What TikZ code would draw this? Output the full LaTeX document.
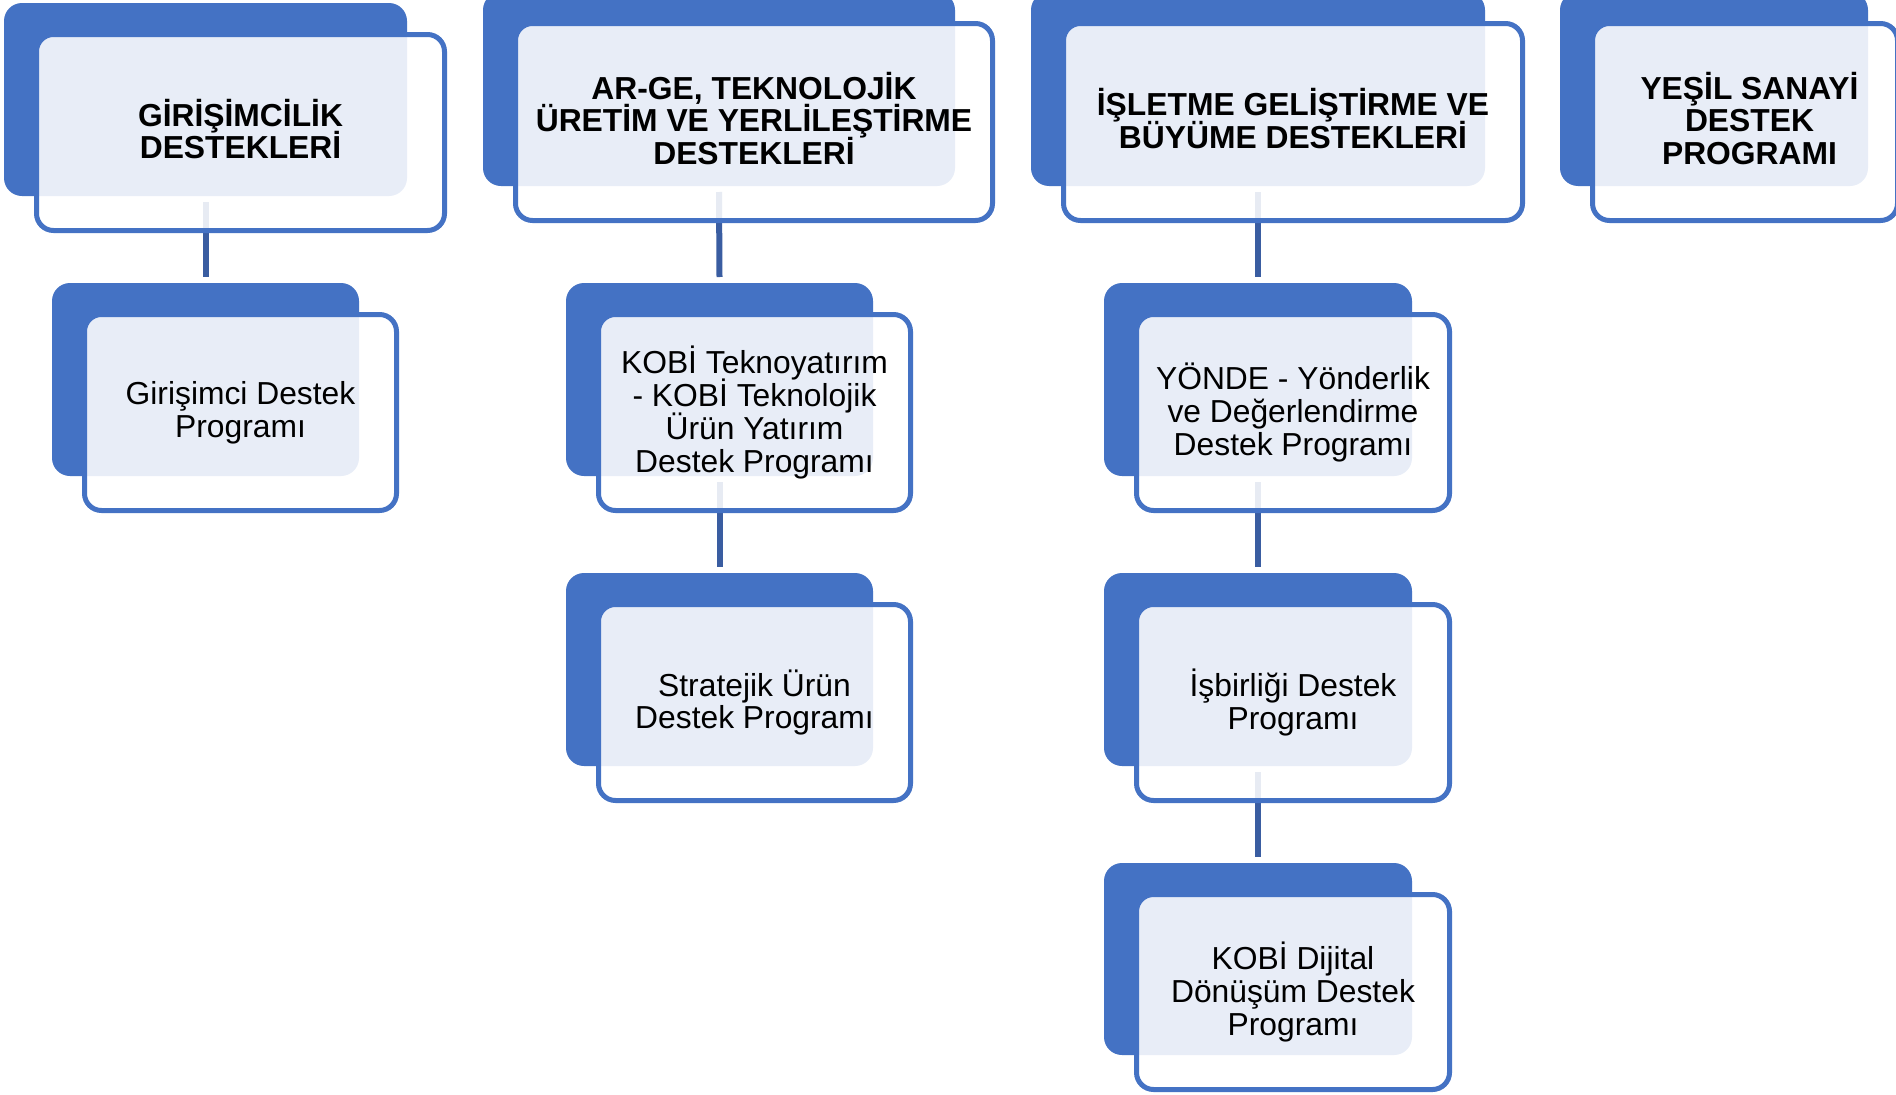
\documentclass[tikz,border=0pt]{standalone}
\usepackage{fontspec}
\setmainfont{Liberation Sans}
\usetikzlibrary{backgrounds}
\lineskiplimit=-50pt\relax
\lineskip=0pt\relax
\definecolor{accblue}{RGB}{68,114,196}
\definecolor{connblue}{RGB}{58,93,161}
\tikzset{
  backbox/.style={rectangle, fill=accblue, draw=none, rounded corners=18pt, inner sep=0pt, outer sep=0pt},
  frontbox/.style={rectangle, draw=accblue, line width=5pt, fill=white, fill opacity=0.88, rounded corners=17pt, inner sep=0pt, outer sep=0pt},
  headtext/.style={font=\bfseries\fontsize{31.8}{32.8}\selectfont, align=center, text=black, inner sep=0pt, yshift=3.5pt},
  itemtext/.style={font=\fontsize{31.8}{32.8}\selectfont, align=center, text=black, inner sep=0pt},
  conn/.style={draw=connblue, line width=6pt},
}
% #1 name, #2 x1, #3 y1, #4 x2, #5 y2 (back box), #6 right extension of frame, #7 text style, #8 text
\newcommand\pbox[8]{%
  \pgfmathsetmacro\pbW{#4-#2}%
  \pgfmathsetmacro\pbH{#5-#3}%
  \pgfmathsetmacro\pbX{(#2+#4)/2}%
  \pgfmathsetmacro\pbY{(#3+#5)/2}%
  \node[backbox, minimum width=\pbW pt, minimum height=\pbH pt] (#1b) at (\pbX,\pbY) {};
  \pgfmathsetmacro\pbW{(#4+#6-2.5)-(#2+32.5)}%
  \pgfmathsetmacro\pbH{(#5+34.5)-(#3+31.5)}%
  \pgfmathsetmacro\pbX{((#4+#6-2.5)+(#2+32.5))/2}%
  \pgfmathsetmacro\pbY{((#5+34.5)+(#3+31.5))/2}%
  \node[frontbox, minimum width=\pbW pt, minimum height=\pbH pt] (#1o) at (\pbX,\pbY) {};
  \node[#7] (#1) at (#1o.center) {#8};
}
\begin{document}
\begin{tikzpicture}[x=1pt,y=-1pt]
\useasboundingbox (0,0) rectangle (1896,1095);
% top level
\pbox{A}{4}{3}{407}{196}{40}{headtext}{GİRİŞİMCİLİK\\DESTEKLERİ}
\pbox{B}{483}{-8}{955}{186}{40}{headtext}{AR-GE, TEKNOLOJİK\\ÜRETİM VE YERLİLEŞTİRME\\DESTEKLERİ}
\pbox{C}{1031}{-8}{1485}{186}{40}{headtext}{İŞLETME GELİŞTİRME VE\\BÜYÜME DESTEKLERİ}
\pbox{D}{1560}{-8}{1868}{186}{32}{headtext,xshift=4.5pt}{YEŞİL SANAYİ\\DESTEK\\PROGRAMI}
% second level
\pbox{A1}{52}{283}{359}{476}{40}{itemtext}{Girişimci Destek\\Programı}
\pbox{B1}{566}{283}{873}{476}{40}{itemtext}{KOBİ Teknoyatırım\\- KOBİ Teknolojik\\Ürün Yatırım\\Destek Programı}
\pbox{C1}{1104}{283}{1412}{476}{40}{itemtext}{YÖNDE - Yönderlik\\ve Değerlendirme\\Destek Programı}
% third level
\pbox{B2}{566}{573}{873}{766}{40}{itemtext}{Stratejik Ürün\\Destek Programı}
\pbox{C2}{1104}{573}{1412}{766}{40}{itemtext}{İşbirliği Destek\\Programı}
% fourth level
\pbox{C3}{1104}{863}{1412}{1055}{40}{itemtext}{KOBİ Dijital\\Dönüşüm Destek\\Programı}
\begin{scope}[on background layer]
  \fill[white] (0,0) rectangle (1896,1095);
  \draw[conn] ([yshift=-6pt]Ab.south) -- ([yshift=6pt]A1b.north);
  \draw[conn] ([yshift=-6pt]Bb.south) -- ([yshift=6pt]B1b.north);
  \draw[conn] ([yshift=-6pt]B1b.south) -- ([yshift=6pt]B2b.north);
  \draw[conn] ([yshift=-6pt]Cb.south) -- ([yshift=6pt]C1b.north);
  \draw[conn] ([yshift=-6pt]C1b.south) -- ([yshift=6pt]C2b.north);
  \draw[conn] ([yshift=-6pt]C2b.south) -- ([yshift=6pt]C3b.north);
\end{scope}
\end{tikzpicture}
\end{document}
